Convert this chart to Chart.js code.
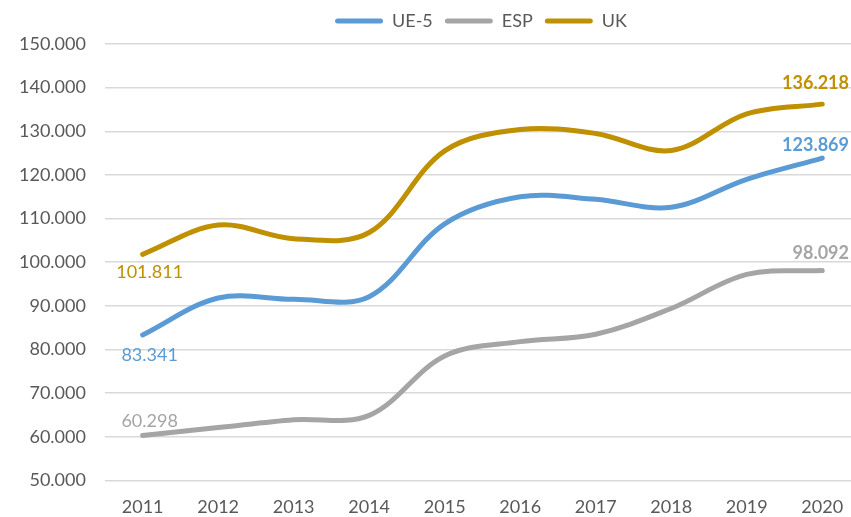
<!DOCTYPE html>
<html>
<head>
<meta charset="utf-8">
<script src="https://cdn.jsdelivr.net/npm/chart.js@4"></script>
<style>
  html, body { margin: 0; padding: 0; background: #fff; overflow: hidden; }
  #wrap { position: relative; width: 860px; height: 528px; }
</style>
</head>
<body>
<div id="wrap"><canvas id="chart"></canvas></div>
<script>
'use strict';
const years = ['2011', '2012', '2013', '2014', '2015', '2016', '2017', '2018', '2019', '2020'];
const ue5 = [83341, 91800, 91500, 92100, 108800, 115000, 114400, 112600, 119000, 123869];
const esp = [60298, 62100, 63900, 64900, 78500, 81800, 83500, 89400, 97200, 98092];
const uk  = [101811, 108500, 105400, 106800, 125500, 130400, 129500, 125600, 134000, 136218];
const yTicks = { min: 50000, max: 150000, step: 10000 };

const FONT = 'Lato';
const fmt = n => Math.round(n).toString().replace(/\B(?=(\d{3})+(?!\d))/g, '.');

// end labels: first value normal, last value bold (like the Excel data labels)
const endLabels = {
  id: 'endLabels',
  afterDatasetsDraw(chart) {
    const ctx = chart.ctx;
    const offs = [[20, -13], [-14, -17], [18, -21]]; // dy first / last per dataset
    chart.data.datasets.forEach((ds, i) => {
      const meta = chart.getDatasetMeta(i);
      const n = meta.data.length;
      const p0 = meta.data[0], p1 = meta.data[n - 1];
      ctx.save();
      ctx.fillStyle = ds.borderColor;
      ctx.textAlign = 'center';
      ctx.textBaseline = 'middle';
      ctx.font = `18px ${FONT}`;
      ctx.fillText(fmt(ds.data[0]), p0.x + 7, p0.y + offs[i][0]);
      ctx.font = `bold 18px ${FONT}`;
      const t = fmt(ds.data[n - 1]);
      const w = ctx.measureText(t).width;
      let x = p1.x;
      if (x + w / 2 > 849) x = 849 - w / 2;
      ctx.fillText(t, x, p1.y + offs[i][1]);
      ctx.restore();
    });
  }
};

// legend sits a bit right of centre and higher in the original
const legendShift = {
  id: 'legendShift',
  afterLayout(chart) {
    const lg = chart.legend;
    if (!lg) return;
    lg.left += 51; lg.right += 51;
    lg.top -= 4; lg.bottom -= 4;
  }
};

const mk = (label, data, color) => ({
  label, data,
  borderColor: color, backgroundColor: color,
  borderWidth: 5, borderCapStyle: 'round', borderJoinStyle: 'round',
  pointRadius: 0, pointHoverRadius: 0,
  tension: 0.35, fill: false, clip: false,
});

new Chart(document.getElementById('chart'), {
  type: 'line',
  data: {
    labels: years,
    datasets: [
      mk('UE-5', ue5, '#5B9BD5'),
      mk('ESP', esp, '#A5A5A5'),
      mk('UK', uk, '#BF9000'),
    ],
  },
  options: {
    responsive: true, maintainAspectRatio: false, animation: false,
    layout: { padding: { left: 0, right: 0, top: 4, bottom: 2 } },
    plugins: {
      tooltip: { enabled: false },
      legend: {
        position: 'top',
        labels: {
          color: '#595959', font: { family: FONT, size: 18 },
          boxWidth: 48, boxHeight: 5, padding: 12,
          useBorderRadius: true, borderRadius: 2.5,
          generateLabels(chart) {
            return Chart.defaults.plugins.legend.labels.generateLabels(chart)
              .map(l => ({ ...l, lineWidth: 0 }));
          },
        },
      },
    },
    scales: {
      x: {
        offset: true,
        grid: { display: false },
        border: { display: false },
        ticks: { color: '#595959', font: { family: FONT, size: 18 }, padding: 8, maxRotation: 0 },
      },
      y: {
        min: yTicks.min, max: yTicks.max,
        border: { display: false },
        grid: { color: '#D9D9D9', lineWidth: 1.5, drawTicks: false },
        ticks: { stepSize: yTicks.step, color: '#595959', font: { family: FONT, size: 18 }, padding: 19, callback: v => fmt(v) },
      },
    },
  },
  plugins: [endLabels, legendShift],
});
</script>
</body>
</html>
